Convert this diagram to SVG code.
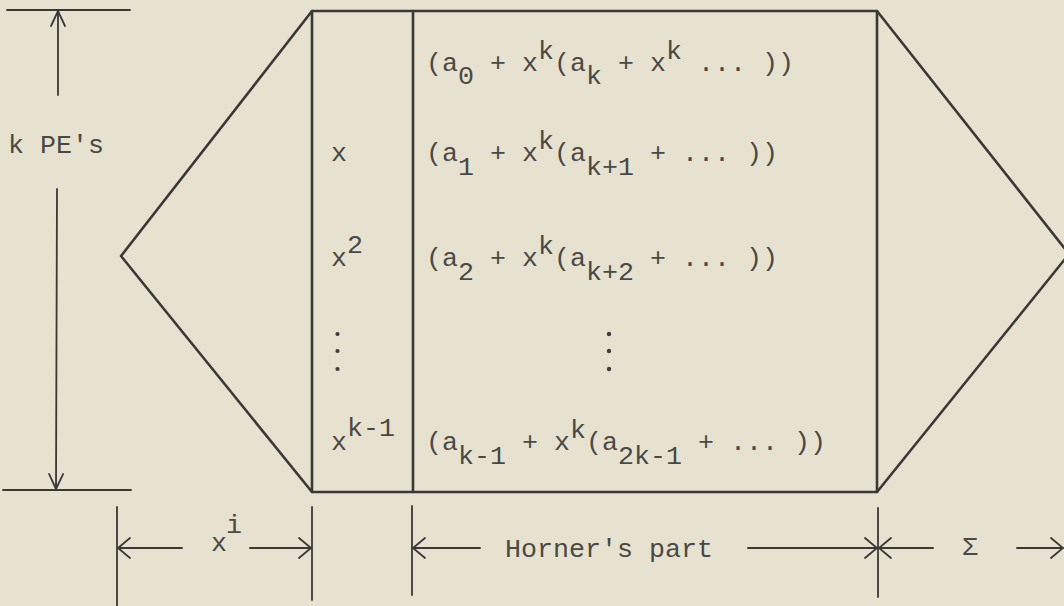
<svg xmlns="http://www.w3.org/2000/svg" width="1064" height="606" viewBox="0 0 1064 606">
<defs>
<style>
.ln{stroke:#3a3936;fill:none;stroke-linecap:round;stroke-linejoin:round}
.shape{stroke-width:2.6}
.dim{stroke-width:1.8}
.t{font-family:"Liberation Mono","DejaVu Sans Mono",monospace;font-size:26.67px;fill:#4a4945;white-space:pre}
.dot{fill:#3e3d3a}
</style>
<marker id="ah" viewBox="-14 -12 16 24" refX="0" refY="0" markerWidth="16" markerHeight="24" markerUnits="userSpaceOnUse" orient="auto">
<path d="M-12,-10 L0,0 L-12,10" fill="none" stroke="#3a3936" stroke-width="1.8" stroke-linecap="round"/>
</marker>
<marker id="ahv" viewBox="-16 -10 18 20" refX="0" refY="0" markerWidth="18" markerHeight="20" markerUnits="userSpaceOnUse" orient="auto">
<path d="M-15,-7 L0,0 L-15,7" fill="none" stroke="#3a3936" stroke-width="1.8" stroke-linecap="round"/>
</marker>
</defs>
<rect width="1064" height="606" fill="#e6e2cf"/>

<g id="array">
<polygon class="ln shape" points="121,256 312,11 877,11 1069,254 877,492 312,492"/>
<line class="ln shape" x1="312" y1="11" x2="312" y2="492"/>
<line class="ln shape" x1="413" y1="11" x2="413" y2="492"/>
<line class="ln shape" x1="877" y1="11" x2="877" y2="492"/>
</g>

<g id="powers">
<text class="t" x="331" y="161">x</text>
<text class="t" x="331" y="266">x<tspan dy="-13">2</tspan></text>
<circle class="dot" cx="337.5" cy="334" r="2.1"/>
<circle class="dot" cx="337.5" cy="351" r="2.1"/>
<circle class="dot" cx="337.5" cy="369" r="2.1"/>
<text class="t" x="331" y="450">x<tspan dy="-14">k-1</tspan></text>
</g>

<g id="horner-rows">
<text class="t" x="426" y="71">(a<tspan dy="13">0</tspan><tspan dy="-13"> + x</tspan><tspan dy="-12">k</tspan><tspan dy="12">(a</tspan><tspan dy="13">k</tspan><tspan dy="-13"> + x</tspan><tspan dy="-12">k</tspan><tspan dy="12"> ... ))</tspan></text>
<text class="t" x="426" y="161">(a<tspan dy="14">1</tspan><tspan dy="-14"> + x</tspan><tspan dy="-12">k</tspan><tspan dy="12">(a</tspan><tspan dy="14">k+1</tspan><tspan dy="-14"> + ... ))</tspan></text>
<text class="t" x="426" y="266">(a<tspan dy="14">2</tspan><tspan dy="-14"> + x</tspan><tspan dy="-12">k</tspan><tspan dy="12">(a</tspan><tspan dy="14">k+2</tspan><tspan dy="-14"> + ... ))</tspan></text>
<circle class="dot" cx="609" cy="334" r="2.2"/>
<circle class="dot" cx="609" cy="351" r="2.2"/>
<circle class="dot" cx="609" cy="369" r="2.2"/>
<text class="t" x="426" y="450">(a<tspan dy="14">k-1</tspan><tspan dy="-14"> + x</tspan><tspan dy="-12">k</tspan><tspan dy="12">(a</tspan><tspan dy="14">2k-1</tspan><tspan dy="-14"> + ... ))</tspan></text>
</g>

<g id="labels">
<text class="t" x="8" y="153">k PE's</text>
<text class="t" x="211" y="551">x</text>
<text class="t" x="226" y="533">i</text>
<text class="t" x="505" y="557">Horner's part</text>
<text class="t" x="970" y="555" text-anchor="middle">Σ</text>
</g>

<g id="connectors">
<line class="ln dim" x1="7" y1="10" x2="130" y2="10"/>
<line class="ln dim" x1="3" y1="490" x2="131" y2="490"/>
<line class="ln dim" x1="58" y1="95" x2="58" y2="11" marker-end="url(#ahv)"/>
<line class="ln dim" x1="57" y1="189" x2="56" y2="489" marker-end="url(#ahv)"/>
<line class="ln dim" x1="117" y1="507" x2="117" y2="606"/>
<line class="ln dim" x1="312" y1="507" x2="312" y2="600"/>
<line class="ln dim" x1="412" y1="506" x2="412" y2="595"/>
<line class="ln dim" x1="878" y1="508" x2="878" y2="597"/>
<line class="ln dim" x1="182" y1="548" x2="118" y2="548" marker-end="url(#ah)"/>
<line class="ln dim" x1="250" y1="548" x2="311" y2="548" marker-end="url(#ah)"/>
<line class="ln dim" x1="480" y1="548" x2="413" y2="548" marker-end="url(#ah)"/>
<line class="ln dim" x1="748" y1="548" x2="877" y2="548" marker-end="url(#ah)"/>
<line class="ln dim" x1="933" y1="548" x2="879" y2="548" marker-end="url(#ah)"/>
<line class="ln dim" x1="1017" y1="548" x2="1063" y2="548" marker-end="url(#ah)"/>
</g>
</svg>
